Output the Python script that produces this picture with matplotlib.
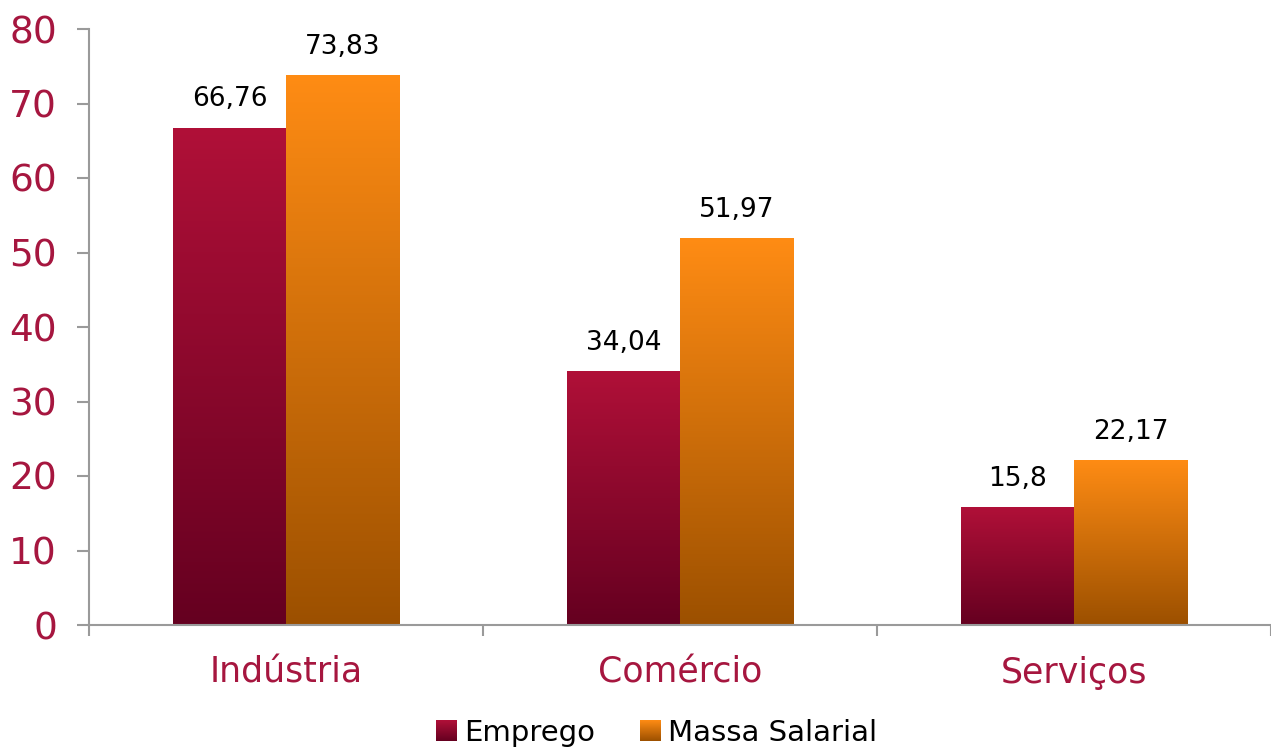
import numpy as np
import matplotlib
matplotlib.use('Agg')
import matplotlib.pyplot as plt
from matplotlib.colors import LinearSegmentedColormap
from matplotlib.legend_handler import HandlerBase
from matplotlib.image import BboxImage
from matplotlib.transforms import Bbox, TransformedBbox
from matplotlib.patches import Patch

plt.rcParams['font.family'] = ['DejaVu Sans']

categorias = ['Indústria', 'Comércio', 'Serviços']
emprego = [66.76, 34.04, 15.8]
massa_salarial = [73.83, 51.97, 22.17]
series = ['Emprego', 'Massa Salarial']

vermelho = LinearSegmentedColormap.from_list('verm', ['#650020', '#B01038'])
laranja = LinearSegmentedColormap.from_list('lar', ['#9C5000', '#FF8C14'])
cor_texto = '#A6163F'
cor_eixo = '#9A9A9A'

fig = plt.figure(figsize=(12.71, 7.51), dpi=100)
ax = fig.add_axes([89 / 1271, 1 - 625 / 751, 1 - 89 / 1271, (625 - 29) / 751])

x = np.arange(len(categorias))
w = 0.287
grad = np.linspace(0, 1, 256).reshape(-1, 1)


def barras_gradiente(pos, vals, cmap):
    bars = ax.bar(pos, vals, w, color='none', edgecolor='none', zorder=2)
    for b in bars:
        x0, y0 = b.get_x(), b.get_y()
        im = ax.imshow(grad, cmap=cmap, aspect='auto', origin='lower',
                       extent=[x0, x0 + b.get_width(), y0, y0 + b.get_height()],
                       zorder=2)
        im.set_clip_path(b)
    return bars


b1 = barras_gradiente(x - w / 2, emprego, vermelho)
b2 = barras_gradiente(x + w / 2, massa_salarial, laranja)

for bars, vals in ((b1, emprego), (b2, massa_salarial)):
    for b, v in zip(bars, vals):
        txt = ('%g' % v).replace('.', ',')
        ax.annotate(txt, (b.get_x() + b.get_width() / 2, v), xytext=(0, 11),
                    textcoords='offset points', ha='center', va='bottom',
                    fontsize=19, color='black')

ax.set_xlim(-0.5, 2.488)
ax.set_ylim(0, 80)
ax.set_yticks(range(0, 81, 10))
ax.set_xticks(x)
ax.set_xticklabels(categorias)
ax.set_xticks([-0.5, 0.5, 1.5, 2.5], minor=True)
ax.tick_params(axis='x', which='major', length=0, pad=22, labelsize=25, labelcolor=cor_texto)
ax.tick_params(axis='x', which='minor', length=8, width=1.5, color=cor_eixo, direction='out')
ax.tick_params(axis='y', length=9, width=1.5, color=cor_eixo, pad=14, labelsize=27,
               labelcolor=cor_texto)

for s in ('top', 'right'):
    ax.spines[s].set_visible(False)
for s in ('left', 'bottom'):
    ax.spines[s].set_color(cor_eixo)
    ax.spines[s].set_linewidth(1.5)
ax.spines['bottom'].set_zorder(3)


class HandlerGradiente(HandlerBase):
    def __init__(self, cmap):
        super().__init__()
        self.cmap = cmap

    def create_artists(self, legend, orig_handle, xdescent, ydescent, width,
                       height, fontsize, trans):
        s = height * 1.0
        bb = Bbox.from_bounds(width - s - xdescent, -ydescent, s, s)
        img = BboxImage(TransformedBbox(bb, trans), cmap=self.cmap, origin='lower')
        img.set_data(grad)
        return [img]


h1, h2 = Patch(label=series[0]), Patch(label=series[1])
fig.legend([h1, h2], series, loc='lower center', bbox_to_anchor=(0.516, -0.03),
           ncol=2, frameon=False, fontsize=21, handlelength=0.75, handletextpad=0.25,
           columnspacing=1.5,
           handler_map={h1: HandlerGradiente(vermelho), h2: HandlerGradiente(laranja)})

fig.savefig('out.png', dpi=100)
